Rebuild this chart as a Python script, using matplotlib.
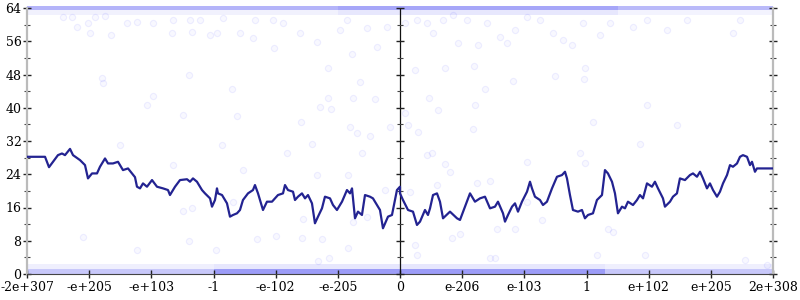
import matplotlib
matplotlib.use("Agg")
import matplotlib.pyplot as plt
import numpy as np

# ---------------- data ----------------
xtick_labels = ["-2e+307", "-e+205", "-e+103", "-1", "-e-102", "-e-205", "0",
                "e-206", "e-103", "1", "e+102", "e+205", "2e+308"]
xtick_pos = list(range(len(xtick_labels)))
ytick_major = [0, 8, 16, 24, 32, 40, 48, 56, 64]
ytick_minor = [4, 12, 20, 28, 36, 44, 52, 60]

line_x = [0.00, 0.29, 0.354, 0.418, 0.498, 0.563, 0.611, 0.692, 0.740, 0.853, 0.933, 0.981,
          1.046, 1.126, 1.174, 1.255, 1.303, 1.383, 1.464, 1.544, 1.625, 1.689, 1.737, 1.769,
          1.818, 1.866, 1.930, 2.011, 2.091, 2.188, 2.268, 2.300, 2.348, 2.381, 2.461, 2.574,
          2.622, 2.670, 2.734, 2.815, 2.863, 2.944, 2.976, 3.024, 3.056, 3.072, 3.137, 3.217,
          3.265, 3.314, 3.378, 3.426, 3.474, 3.555, 3.635, 3.667, 3.716, 3.796, 3.860, 3.941,
          3.989, 4.037, 4.118, 4.150, 4.198, 4.279, 4.311, 4.359, 4.423, 4.472, 4.520, 4.584,
          4.632, 4.681, 4.745, 4.793, 4.874, 4.922, 4.986, 5.067, 5.147, 5.196, 5.228, 5.276,
          5.324, 5.388, 5.437, 5.517, 5.565, 5.678, 5.726, 5.807, 5.871, 5.951, 6.000,
          6.000, 6.048, 6.129, 6.209, 6.273, 6.322, 6.402, 6.450, 6.483, 6.531, 6.595, 6.643,
          6.692, 6.804, 6.917, 6.965, 7.046, 7.126, 7.206, 7.287, 7.367, 7.448, 7.528, 7.576,
          7.657, 7.689, 7.737, 7.802, 7.850, 7.898, 7.962, 8.043, 8.091, 8.123, 8.171, 8.252,
          8.300, 8.364, 8.445, 8.525, 8.605, 8.654, 8.686, 8.734, 8.782, 8.863, 8.927, 8.975,
          9.024, 9.104, 9.168, 9.249, 9.297, 9.345, 9.410, 9.458, 9.506, 9.571, 9.619, 9.667,
          9.748, 9.812, 9.860, 9.909, 9.973, 10.053, 10.101, 10.150, 10.230, 10.262, 10.343,
          10.391, 10.455, 10.503, 10.584, 10.664, 10.713, 10.777, 10.826, 10.874, 10.938,
          10.986, 11.035, 11.099, 11.147, 11.196, 11.260, 11.308, 11.356, 11.421, 11.469,
          11.517, 11.582, 11.630, 11.662, 11.710, 11.742, 12.000]
line_y = [28.2, 28.2, 25.7, 27.0, 28.6, 29.0, 28.6, 30.1, 28.6, 27.4, 26.2, 23.0,
          24.2, 24.2, 25.8, 27.8, 26.6, 26.6, 27.0, 25.0, 25.4, 24.2, 23.3, 21.0,
          20.6, 21.8, 21.0, 22.6, 21.0, 20.6, 20.2, 19.0, 20.2, 21.0, 22.6, 22.8,
          22.2, 23.0, 22.2, 20.2, 19.4, 18.2, 16.2, 17.8, 20.6, 19.4, 19.0, 17.0,
          13.8, 14.2, 14.6, 15.4, 17.8, 19.4, 20.2, 21.4, 19.4, 15.4, 17.4, 17.4,
          18.2, 19.0, 19.4, 21.4, 20.2, 19.8, 17.8, 18.6, 19.4, 18.2, 19.0, 17.0,
          12.2, 13.8, 15.8, 18.6, 18.2, 16.6, 15.4, 17.4, 20.2, 19.4, 20.6, 13.4,
          15.0, 14.2, 19.0, 18.6, 18.2, 15.4, 11.0, 13.8, 14.2, 20.2, 21.0,
          19.4, 17.8, 15.4, 15.0, 11.8, 12.6, 15.4, 14.2, 15.8, 19.0, 19.4, 17.4,
          13.4, 15.0, 13.4, 13.0, 16.2, 19.4, 17.4, 18.2, 18.6, 15.8, 16.2, 17.4,
          14.6, 12.6, 14.2, 16.2, 17.0, 15.0, 17.4, 19.8, 22.2, 20.6, 18.6, 17.8,
          16.6, 17.4, 20.6, 23.4, 23.8, 24.6, 23.0, 19.0, 15.4, 15.0, 15.4, 13.4,
          14.2, 14.6, 17.8, 19.0, 25.0, 24.2, 22.2, 19.4, 14.6, 16.2, 15.8, 17.4,
          16.6, 17.8, 19.0, 18.2, 21.8, 21.0, 22.2, 20.6, 18.2, 16.2, 17.4,
          18.6, 19.4, 23.0, 22.6, 23.8, 24.2, 23.4, 24.6, 23.0, 20.6,
          21.8, 20.2, 18.6, 19.8, 21.8, 23.8, 26.2, 25.8, 26.6, 28.2,
          28.6, 28.2, 26.2, 27.0, 24.6, 25.4, 25.4]

# sparse individual sample points (outside the dense bands)
pts_x = [0.58, 0.72, 0.80, 0.98, 1.01, 1.09, 1.25, 1.35, 1.21, 1.22, 1.93, 2.03, 1.61, 1.77,
         2.03, 2.35, 2.33, 2.51, 2.61, 2.62, 2.65, 2.78, 2.94, 3.06, 3.15, 3.30, 3.38, 3.43,
         3.64, 3.67, 3.97, 3.96, 4.12, 4.39, 4.66, 4.71, 4.89, 4.41, 4.84, 4.84, 5.23, 5.20,
         5.24, 5.36, 5.60, 5.31, 5.52, 5.63, 5.03, 5.15, 5.47, 5.79, 5.84,
         6.08, 6.27, 6.43, 6.53, 6.69, 6.85, 6.93, 7.08, 7.25, 7.40, 7.61, 7.72, 7.85, 8.04,
         8.25, 8.46, 8.62, 8.77, 8.94, 9.22, 9.38, 9.75, 9.97, 10.29, 10.62, 11.36, 11.47,
         6.24, 6.72, 7.19, 7.82, 8.49, 8.98, 8.96, 7.37, 6.47, 6.61, 7.21, 9.97, 9.10, 10.46,
         7.17, 6.29, 6.08, 6.13, 9.86,
         0.90, 1.77, 2.61, 3.04, 3.31, 3.70, 4.01, 4.42, 4.75, 5.16, 4.86, 4.68, 2.51, 2.65,
         4.44, 5.24, 5.47, 1.50, 2.35, 3.47, 4.66, 5.16, 5.39, 5.76, 4.18, 3.14, 4.58,
         6.43, 6.51, 6.72, 6.80, 6.59, 6.16, 7.24, 7.45, 8.04, 8.90, 8.98, 8.28, 8.04, 7.56,
         7.85, 6.96, 6.84, 9.35, 9.43, 6.24, 6.27, 7.45, 7.53, 9.17, 9.94, 11.55, 11.90]
pts_y = [61.8, 61.8, 59.4, 60.4, 58.0, 61.8, 62.0, 57.5, 47.2, 46.0, 40.7, 42.8, 60.4, 60.6,
         60.4, 61.1, 58.0, 38.3, 47.9, 61.1, 58.2, 61.1, 57.5, 58.0, 61.6, 44.5, 38.0, 58.0,
         56.8, 61.1, 54.4, 61.1, 60.4, 58.0, 55.8, 40.2, 39.7, 36.6, 42.3, 49.6, 52.9, 35.4,
         42.3, 46.2, 42.1, 33.9, 33.2, 54.6, 58.7, 61.1, 59.2, 59.4, 35.4,
         60.4, 61.1, 60.4, 58.0, 61.1, 62.3, 55.6, 61.1, 55.1, 60.4, 57.0, 55.6, 58.7, 61.8,
         61.1, 58.0, 56.3, 55.1, 60.4, 57.5, 60.4, 59.4, 61.1, 58.7, 61.1, 58.0, 61.1,
         49.1, 49.6, 50.0, 46.4, 47.6, 49.6, 46.9, 44.5, 42.3, 39.5, 40.7, 40.7, 36.6, 35.9,
         34.9, 34.2, 38.7, 35.9, 31.3,
         8.9, 5.8, 7.9, 5.8, 17.3, 8.4, 9.1, 8.7, 8.4, 6.3, 3.8, 3.1, 15.2, 15.9,
         13.2, 12.5, 13.7, 31.0, 26.2, 25.0, 23.8, 23.8, 29.1, 20.2, 29.1, 31.0, 31.3,
         28.6, 29.1, 26.5, 24.5, 21.4, 19.7, 21.9, 22.4, 26.9, 29.1, 26.7, 13.0, 17.3, 10.8,
         10.8, 9.6, 8.7, 10.8, 10.1, 7.0, 4.6, 3.8, 3.8, 4.6, 4.6, 3.4, 2.2]

# dense bands of samples: x-extent, y-extent (core and halo), density
top_core_y = [63.5, 64.4]
top_halo_y = [62.2, 63.5]
top_bands_x = [[0, 5.0], [5.0, 9.5], [9.5, 12]]
top_core_density = [0.38, 0.45, 0.35]
top_halo_density = [0.07, 0.12, 0.06]

bottom_bands_x = [[0, 3.0], [3.0, 9.3], [9.3, 12]]
bottom_core_y = [0.0, 1.3]
bottom_halo_y = [1.3, 2.3]
bottom_core_density = [0.28, 0.5, 0.28]
bottom_halo_density = [0.08, 0.12, 0.08]

# ---------------- plot ----------------
plt.rcParams["font.family"] = ["DejaVu Serif"]
fig = plt.figure(figsize=(8, 3), dpi=100)
ax = fig.add_axes([27 / 800, 1 - 274 / 300, 746 / 800, 266 / 300])
ax.set_xlim(0, 12)
ax.set_ylim(0, 64)

band_color = "#3a3af0"
for bx, dc, dh in zip(top_bands_x, top_core_density, top_halo_density):
    pc = ax.fill_between(bx, top_core_y[0], top_core_y[1], color=band_color, alpha=dc, linewidth=0)
    pc.set_clip_on(False)
    ax.fill_between(bx, top_halo_y[0], top_halo_y[1], color=band_color, alpha=dh, linewidth=0)
for bx, dc, dh in zip(bottom_bands_x, bottom_core_density, bottom_halo_density):
    pc = ax.fill_between(bx, bottom_core_y[0], bottom_core_y[1], color=band_color, alpha=dc,
                         linewidth=0)
    pc.set_clip_on(False)
    ax.fill_between(bx, bottom_halo_y[0], bottom_halo_y[1], color=band_color, alpha=dh, linewidth=0)

ax.scatter(pts_x, pts_y, s=20, facecolor=(0.2, 0.2, 1.0, 0.03),
           edgecolor=(0.2, 0.2, 1.0, 0.08), linewidth=0.8, zorder=2)

ax.plot(line_x, line_y, color="#232391", lw=1.6, zorder=4, solid_joinstyle="round")

# spines
ax.spines["top"].set_visible(False)
for s in ["left", "right"]:
    ax.spines[s].set_color("#bbbbbb")
    ax.spines[s].set_linewidth(1.6)
ax.spines["bottom"].set_color("#444444")
ax.spines["bottom"].set_linewidth(0.8)

ax.set_yticks(ytick_major)
ax.set_yticks(ytick_minor, minor=True)
ax.set_xticks(xtick_pos)
ax.set_xticklabels(xtick_labels)
ax.tick_params(axis="y", which="major", direction="inout", length=6, width=1,
               color="#222222", left=True, right=True, labelsize=9, pad=1)
ax.tick_params(axis="y", which="minor", direction="inout", length=4, width=0.8,
               color="#444444", left=True, right=True)
ax.tick_params(axis="x", which="major", direction="inout", length=6, width=1,
               color="#222222", labelsize=9, pad=2)

# central axis at the "0" tick
ax.axvline(xtick_pos[6], color="#111111", lw=0.9, zorder=3)
ax.plot([xtick_pos[6]] * len(ytick_major), ytick_major, linestyle="none", marker="_",
        markersize=6, markeredgewidth=1, color="#222222", zorder=3, clip_on=False)
ax.plot([xtick_pos[6]] * len(ytick_minor), ytick_minor, linestyle="none", marker="_",
        markersize=4, markeredgewidth=0.8, color="#444444", zorder=3)

fig.savefig("out.png", dpi=100)
